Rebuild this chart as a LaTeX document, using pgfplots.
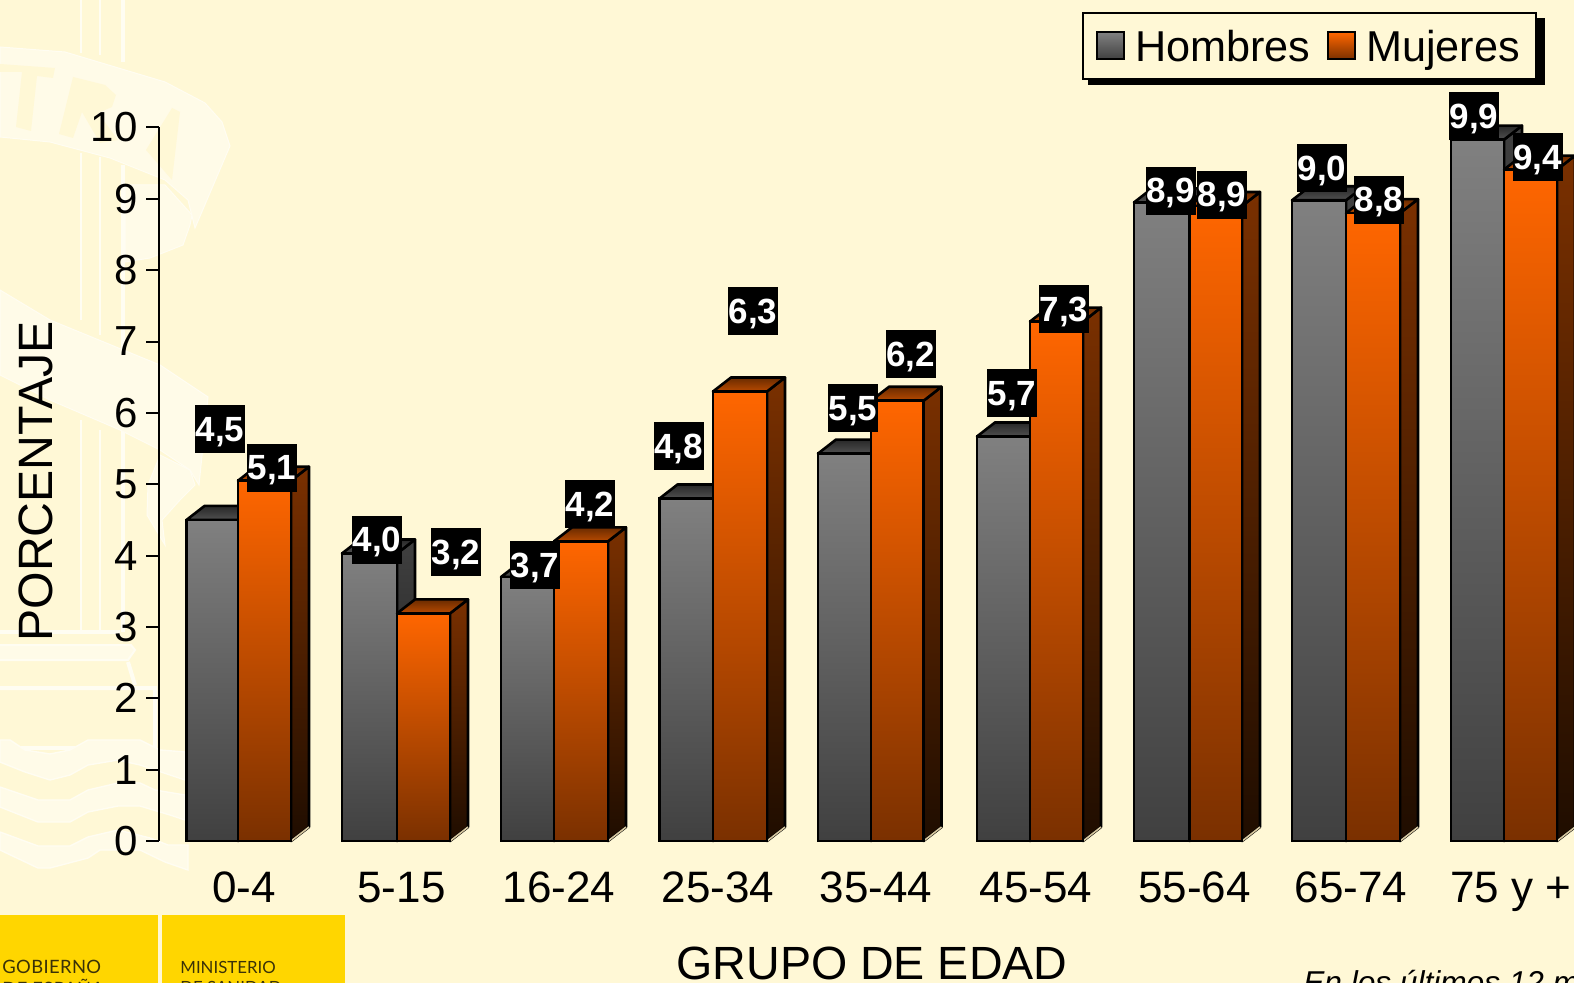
\documentclass[border=0pt]{standalone}
\usepackage{pgfplots}
\pgfplotsset{compat=1.18}
\usepackage{pgfplotstable}
\usepackage{fontspec}
\setmainfont{Liberation Sans}
\newfontfamily\logofont{Lato}
\definecolor{bgc}{HTML}{FFF8D6}
\definecolor{wm}{HTML}{FFFBE8}
\definecolor{wml}{HTML}{FFFDF2}
\definecolor{gA}{HTML}{808080}
\definecolor{gB}{HTML}{404040}
\definecolor{gC}{HTML}{111111}
\definecolor{gT}{HTML}{282828}
\definecolor{gU}{HTML}{505050}
\definecolor{oA}{HTML}{FF6600}
\definecolor{oB}{HTML}{7A3000}
\definecolor{oC}{HTML}{1F0D00}
\definecolor{oT}{HTML}{6A2B00}
\definecolor{oU}{HTML}{B84A00}
\definecolor{hl}{HTML}{D8C8A0}
\definecolor{logoy}{HTML}{FFD600}
\definecolor{logot}{HTML}{3A3208}

\pgfplotstableread{
x y label
220 5.774 4,5
272 5.228 5,1
377 4.219 4,0
456 4.050 3,2
535 3.868 3,7
590 4.723 4,2
678.5 5.536 4,8
753 7.428 6,3
853 6.062 5,5
910.5 6.825 6,2
1012 6.272 5,7
1064 7.456 7,3
1170.7 9.110 8,9
1222 9.054 8,9
1322 9.432 9,0
1379 8.984 8,8
1474 10.161 9,9
1537.5 9.586 9,4
}\labeltable

% #1 left, #2 right, #3 value, #4 front top, #5 front bottom, #6 side top, #7 side bottom, #8 top back, #9 top front
\newcommand{\threedbar}[9]{%
  \pgfmathsetmacro\tdC{(#1+#2)/2}%
  \pgfmathsetmacro\tdW{#2-#1}%
  \pgfmathsetmacro\tdR{#2+18}%
  \pgfmathsetmacro\tdL{#1+18}%
  \pgfmathsetmacro\tdV{#3+0.196}%
  \edef\tdDo{%
    \noexpand\addplot[forget plot,draw=black,line width=1.3pt,line join=round,top color=#6,bottom color=#7]
      coordinates {(#2,0) (\tdR,0.196) (\tdR,\tdV) (#2,#3)} --cycle;
    \noexpand\addplot[forget plot,draw=hl,line width=0.8pt]
      coordinates {(#2,0) (\tdR,0.196)};
    \noexpand\addplot[forget plot,draw=black,line width=1.3pt,line join=round,top color=#8,bottom color=#9]
      coordinates {(#1,#3) (#2,#3) (\tdR,\tdV) (\tdL,\tdV)} --cycle;
    \noexpand\addplot[forget plot,ybar,bar width=\tdW,bar shift=0pt,draw=black,line width=1.3pt,top color=#4,bottom color=#5]
      coordinates {(\tdC,#3)};
  }\tdDo
}
\newcommand{\hombresbar}[3]{\threedbar{#1}{#2}{#3}{gA}{gB}{gB}{gC}{gT}{gU}}
\newcommand{\mujeresbar}[3]{\threedbar{#1}{#2}{#3}{oA}{oB}{oB}{oC}{oT}{oU}}

\begin{document}
\begin{tikzpicture}
\useasboundingbox (0,0) rectangle (787pt,-491.5pt);
\clip (0,0) rectangle (787pt,-491.5pt);
\begin{scope}[x=0.5pt,y=-0.5pt]
\fill[bgc] (0,0) rectangle (1574,983);
% watermark: emblem of the slide background
\draw[wml,line width=1pt] (81,0)--(81,53) (81,153)--(81,320) (81,420)--(81,632);
\draw[wml,line width=1pt] (100,0)--(100,55) (100,157)--(100,335) (100,430)--(100,632);
\draw[wml,line width=2pt] (123,0)--(123,62) (123,165)--(123,632);
\draw[wml,fill=wm,line width=.5pt] (0,47)--(65,52)--(165,82)--(205,103)--(222,122)--(230,146)--(195,228)--(188,200)--(165,180)--(110,158)--(50,142)--(0,137)--cycle;
\fill[bgc] (0,64)--(55,68)--(53,78)--(37,76)--(31,131)--(16,127)--(22,72)--(0,72)--cycle;
\fill[bgc] (73,77)--(105,85)--(116,95)--(112,107)--(98,113)--(118,140)--(100,143)--(82,112)--(73,138)--(59,134)--cycle;
\fill[bgc] (146,150)--(172,108)--(180,112)--(172,180)--cycle;
\draw[wml,fill=wm,line width=.5pt] (125,185)--(165,185)--(192,215)--(190,225)--(183,245)--(150,258)--(125,262)--cycle;
\draw[wml,fill=wm,line width=.5pt] (0,290)--(50,320)--(160,365)--(190,385)--(208,397)--(199,485)--(190,470)--(160,450)--(120,430)--(50,400)--(0,375)--cycle;
\draw[wml,fill=wm,line width=.5pt] (160,455)--(148,485)--(147,515)--(165,545)--(162,520)--(180,500)--(195,485)--(190,470)--(170,460)--cycle;
\draw[wml,line width=2pt] (0,632)--(120,632);
\draw[wml,fill=wm,line width=1pt] (0,645)--(131,645)--(135,650)--(128,660)--(0,660);
\draw[wml,line width=2pt] (128,662)--(135,685) (0,688)--(155,688)--(155,747);
\draw[wml,line width=2pt] (0,748)--(157,748);
\draw[wml,fill=wm,line width=.7pt] (0,740)--(10,740)--(25,750)--(50,754)--(70,750)--(88,740)--(140,740)--(160,750)--(185,752)--(185,780)--(140,765)--(118,760)--(88,765)--(70,775)--(50,780)--(25,772)--(0,762)--cycle;
\draw[wml,fill=wm,line width=.7pt] (0,787)--(38,800)--(70,800)--(88,790)--(118,783)--(140,783)--(155,790)--(185,795)--(185,820)--(170,815)--(140,806)--(118,806)--(88,812)--(70,822)--(38,822)--(0,807)--cycle;
\draw[wml,fill=wm,line width=.7pt] (0,832)--(38,846)--(70,846)--(88,837)--(118,830)--(150,838)--(168,845)--(188,845)--(188,870)--(165,862)--(140,850)--(100,850)--(88,858)--(50,868)--(38,868)--(0,850)--cycle;
% logos
\fill[logoy] (0,915) rectangle (158,983);
\fill[logoy] (162,915) rectangle (345,983);
\node[anchor=base west,inner sep=0,text=logot,font=\logofont\fontsize{9.2}{10}\selectfont] at (2,973) {\addfontfeatures{LetterSpace=2}GOBIERNO};
\node[anchor=base west,inner sep=0,text=logot,font=\logofont\fontsize{9.2}{10}\selectfont] at (2,995) {\addfontfeatures{LetterSpace=2}DE ESPAÑA};
\node[anchor=base west,inner sep=0,text=logot,font=\logofont\fontsize{8.4}{10}\selectfont] at (180,973) {MINISTERIO};
\node[anchor=base west,inner sep=0,text=logot,font=\logofont\fontsize{8.4}{10}\selectfont] at (180,993) {DE SANIDAD};
\node[anchor=base west,inner sep=0,font=\itshape\fontsize{15.8}{18}\selectfont] at (1303,993) {En los últimos 12 m};
% shadow of the legend box
\fill[black] (1088,18) rectangle (1545,85);
\end{scope}
\begin{axis}[
  at={(79.5pt,-420.5pt)},anchor=south west,
  scale only axis,width=707.5pt,height=356.75pt,
  xmin=159,xmax=1574,ymin=0,ymax=10,
  clip=false,
  axis lines=left,
  axis line style={-,line width=1pt,black},
  x axis line style={draw=none},
  xtick={244,401.5,559,718,876,1036,1194.5,1351,1511},
  xticklabels={0-4,5-15,16-24,25-34,35-44,45-54,55-64,65-74,75 y +},
  x tick style={draw=none},
  ytick={0,1,2,3,4,5,6,7,8,9,10},
  y tick style={black,line width=1pt},
  tick align=outside,
  major tick length=6.5pt,
  minor tick num=0,
  /pgf/number format/assume math mode=true,
  xticklabel style={font=\fontsize{22}{26}\selectfont,anchor=base,yshift=-24pt,inner sep=0pt},
  yticklabel style={font=\fontsize{21}{25}\selectfont,anchor=east,inner sep=0pt,xshift=-4pt},
  xlabel={GRUPO DE EDAD},
  xlabel style={at={(axis cs:872,-1.948)},anchor=base,inner sep=0pt,font=\fontsize{23.3}{28}\selectfont},
  ylabel={PORCENTAJE},
  ylabel style={at={(axis cs:53,5.04)},anchor=base,rotate=0,inner sep=0pt,font=\fontsize{24.1}{28}\selectfont},
  legend columns=2,
  legend cell align=left,
  legend style={at={(axis cs:1082,11.62)},anchor=north west,draw=black,line width=1pt,fill=bgc,
    font=\fontsize{21.6}{26}\selectfont,
    nodes={inner sep=0pt,text depth=0pt},
    /tikz/every odd column/.append style={column sep=5pt},
    /tikz/every even column/.append style={column sep=8.5pt},
    inner xsep=6.5pt,inner ysep=0pt,minimum height=33pt},
]
\addlegendimage{legend image code/.code={\draw[draw=black,line width=1pt,top color=gA,bottom color=gB] (0pt,-6.75pt) rectangle (13.5pt,6.75pt);}}
\addlegendentry{Hombres}
\addlegendimage{legend image code/.code={\draw[draw=black,line width=1pt,top color=oA,bottom color=oB] (0pt,-6.75pt) rectangle (13.5pt,6.75pt);}}
\addlegendentry{Mujeres\hspace*{1.5pt}}

\hombresbar{186.5}{238}{4.5}\mujeresbar{238}{291}{5.05}
\hombresbar{342}{397}{4.03}\mujeresbar{397}{450}{3.19}
\hombresbar{501}{554}{3.7}\mujeresbar{554}{608}{4.2}
\hombresbar{659.5}{713}{4.8}\mujeresbar{713}{767}{6.3}
\hombresbar{818}{871}{5.43}\mujeresbar{871}{923.5}{6.17}
\hombresbar{977}{1030}{5.67}\mujeresbar{1030}{1083}{7.28}
\hombresbar{1134}{1189.5}{8.95}\mujeresbar{1189.5}{1242}{8.9}
\hombresbar{1292}{1346}{8.98}\mujeresbar{1346}{1400}{8.8}
\hombresbar{1451}{1504}{9.83}\mujeresbar{1504}{1557}{9.41}

\addplot[forget plot,draw=none,mark=none,
  nodes near coords,point meta=explicit symbolic,
  nodes near coords align={anchor=center},
  every node near coord/.append style={anchor=center,fill=black,text=white,inner sep=0pt,
    text height=12pt,text depth=0pt,
    minimum width=25pt,minimum height=24pt,font=\bfseries\fontsize{17.5}{19}\selectfont}]
  table[x=x,y=y,meta=label] {\labeltable};
\end{axis}
\end{tikzpicture}
\end{document}
